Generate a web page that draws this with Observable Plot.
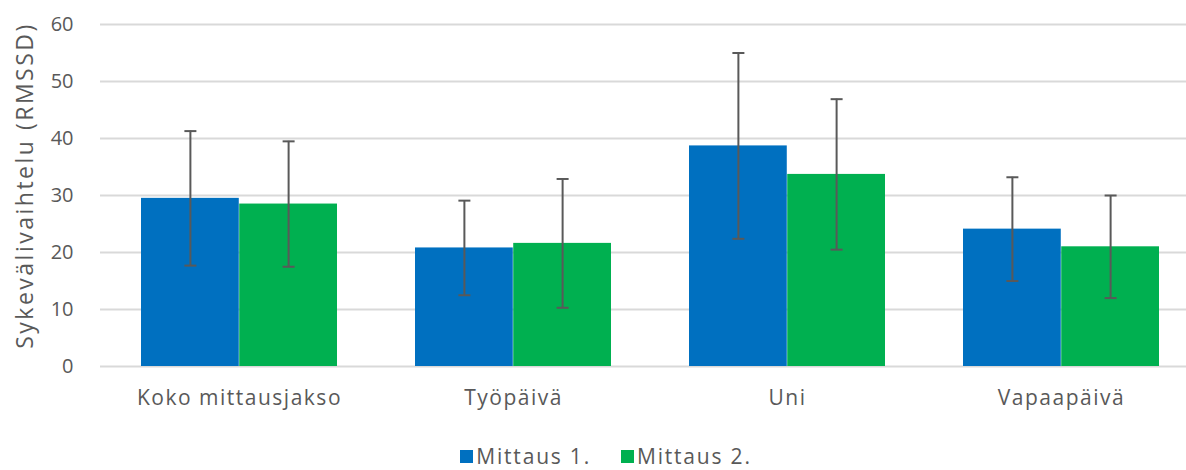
<!DOCTYPE html>
<html><head><meta charset="utf-8">
<script src="https://cdn.jsdelivr.net/npm/d3@7"></script>
<script src="https://cdn.jsdelivr.net/npm/@observablehq/plot@0.6"></script>
<style>
body{margin:0;background:#fff;font-family:"Open Sans",sans-serif;}
#chart svg{display:block;}
#legend{display:flex;justify-content:center;align-items:center;height:72px;font-size:21px;letter-spacing:1.8px;color:#595959;padding-left:26px;}
.item{display:flex;align-items:center;margin:0 15px;}
.sw{width:13px;height:13px;margin-right:3px;}
</style></head><body>
<div id="chart"></div><div id="legend"></div>
<script>
const categories = ["Koko mittausjakso","Työpäivä","Uni","Vapaapäivä"];
const series = ["Mittaus 1.","Mittaus 2."];
const mean1 = [29.5,20.8,38.7,24.1];
const mean2 = [28.5,21.6,33.7,21.0];
const sd1 = [11.8,8.3,16.3,9.1];
const sd2 = [11.0,11.3,13.2,9.0];
const yTicks = [0,10,20,30,40,50,60];
const colors = ["#0070C0","#00B050"];
const yLabel = "Sykevälivaihtelu (RMSSD)";

const rows = categories.flatMap((c,i)=>[
  {category:c, series:series[0], value:mean1[i], sd:sd1[i]},
  {category:c, series:series[1], value:mean2[i], sd:sd2[i]}
]);
const rows1 = rows.filter(d=>d.series===series[0]);
const rows2 = rows.filter(d=>d.series===series[1]);
const cap = {draw(ctx, size){ const w = Math.sqrt(size/Math.PI); ctx.moveTo(-w,0); ctx.lineTo(w,0); }};
const grey = "#595959";

const W = 1186, H = 420, mL = 100, mR = -13, mT = 24, mB = 54;
const xOpts = {type: "band", domain: categories, paddingInner: 0.285, paddingOuter: 0.1425};
const bw = Plot.scale({x: {...xOpts, range: [mL, W - mR]}}).bandwidth;
const lo = d=>d.value-d.sd, hi = d=>d.value+d.sd;
const errMarks = (data, dx) => [
  Plot.ruleX(data, {x: "category", y1: lo, y2: hi, dx, stroke: grey, strokeWidth: 2}),
  Plot.dot(data, {x: "category", y: hi, dx, symbol: cap, r: 6, stroke: grey, strokeWidth: 2}),
  Plot.dot(data, {x: "category", y: lo, dx, symbol: cap, r: 6, stroke: grey, strokeWidth: 2})
];

const chart = Plot.plot({
  width: W, height: H,
  marginTop: mT, marginBottom: mB, marginLeft: mL, marginRight: mR,
  style: {fontFamily: "'Open Sans', sans-serif", fontSize: "20px", color: grey, background: "#fff"},
  x: xOpts,
  y: {domain: [0,60]},
  color: {domain: series, range: colors},
  marks: [
    Plot.ruleY(yTicks, {y: d=>d, stroke: "#d9d9d9", strokeWidth: 1.8}),
    Plot.axisY({ticks: yTicks, tickSize: 0, tickPadding: 27, label: null, fontSize: 20}),
    Plot.axisX({anchor: "bottom", tickSize: 0, tickPadding: 24, label: null, fontSize: 21}),
    Plot.text([yLabel], {text: d=>d, frameAnchor: "left", textAnchor: "middle", rotate: -90, dx: -75, dy: -10, fontSize: 23, fill: grey}),
    Plot.barY(rows1, {x: "category", y: "value", fill: "series", insetRight: bw/2}),
    Plot.barY(rows2, {x: "category", y: "value", fill: "series", insetLeft: bw/2}),
    ...errMarks(rows1, -bw/4),
    ...errMarks(rows2, bw/4)
  ]
});
document.getElementById("chart").append(chart);
chart.querySelectorAll('g[aria-label="x-axis tick label"] text').forEach(t => t.style.letterSpacing = "1.5px");
chart.querySelectorAll('g[aria-label="text"] text').forEach(t => t.style.letterSpacing = "2.5px");

const lg = document.getElementById("legend");
series.forEach((s,i)=>{
  const it = document.createElement("div"); it.className="item";
  const sw = document.createElement("div"); sw.className="sw"; sw.style.background = colors[i];
  const t = document.createElement("span"); t.textContent = s;
  it.append(sw,t); lg.append(it);
});
</script>
</body></html>
